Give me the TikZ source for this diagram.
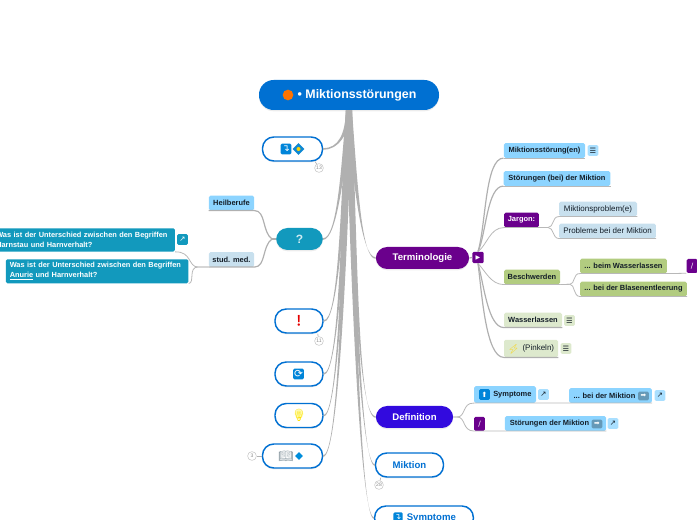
\documentclass[tikz,border=0pt]{standalone}
\usepackage{xcolor}
\usepackage{fontspec}
\usepackage{tikz}
\usetikzlibrary{calc,shapes.geometric,shadows}
\setmainfont{Liberation Sans}
\newfontfamily\symfont{DejaVu Sans}
\newfontfamily\emojifont{Noto Emoji}
\definecolor{rootblue}{RGB}{0,112,210}
\definecolor{linkgray}{RGB}{176,176,176}
\definecolor{tealbox}{RGB}{18,153,189}
\definecolor{skyblue}{RGB}{140,212,255}
\definecolor{paleblue}{RGB}{200,224,238}
\definecolor{termpurple}{RGB}{106,0,140}
\definecolor{defindigo}{RGB}{50,10,222}
\definecolor{leafgreen}{RGB}{178,204,128}
\definecolor{palegreen}{RGB}{221,233,205}
\definecolor{darktext}{RGB}{20,30,40}
\tikzset{
  mainnode/.style={rounded corners=8.5pt,minimum height=18pt,inner sep=0pt,font=\fontsize{7.2}{9}\selectfont\bfseries,drop shadow={opacity=0.15,shadow xshift=0pt,shadow yshift=-1pt}},
  outlined/.style={mainnode,draw=rootblue,line width=1.1pt,fill=white,text=rootblue},
  tagbox/.style={rounded corners=1.2pt,inner sep=0pt,minimum height=11pt,font=\fontsize{5.6}{7}\selectfont\bfseries,text=darktext},
  plainbox/.style={tagbox,font=\fontsize{6}{7}\selectfont},
  questionbox/.style={rounded corners=1.2pt,fill=tealbox,text=white,anchor=north west,inner sep=0pt,text width=137pt,align=left,font=\fontsize{5.55}{7.4}\selectfont\bfseries},
  iconbox/.style={rounded corners=1pt,inner sep=0pt,minimum width=8pt,minimum height=8pt,font=\symfont\fontsize{5.5}{6}\selectfont},
  bigicon/.style={iconbox,fill=rootblue!85!cyan,text=white},
  linkicon/.style={iconbox,fill=skyblue!75!white,text=darktext},
  arrowicon/.style={iconbox,fill=black!28!skyblue,text=white,minimum height=6.5pt,font=\symfont\fontsize{5}{5}\selectfont},
  badge/.style={circle,draw=black!22,fill=white,line width=0.4pt,inner sep=0pt,minimum size=6.6pt,text=black!45,font=\fontsize{3.8}{4}\selectfont},
  thinlink/.style={draw=black!28,line width=0.6pt},
  sublink/.style={draw=linkgray,line width=0.9pt},
  badgelink/.style={draw=linkgray,line width=0.5pt},
}
% tapered limb from the root to a main node
\newcommand{\limb}[3]{%
  \fill[linkgray] ($(root.south)+(-3,0)$) .. controls ($#2+(-1.8,0)$) and ($#3+(0,-0.8)$) .. ($#1+(0,-0.8)$)
    -- ($#1+(0,0.8)$) .. controls ($#3+(0,0.8)$) and ($#2+(1.8,0)$) .. ($(root.south)+(3,0)$) -- cycle;}
\begin{document}
\begin{tikzpicture}[x=0.75pt,y=-0.75pt]
\useasboundingbox (0,0) rectangle (697,520);
% Main nodes
\node[mainnode,fill=rootblue,text=white,minimum width=135pt,minimum height=22.5pt,rounded corners=11pt,font=\fontsize{9.3}{11}\selectfont\bfseries] (root) at (349,95) {\hspace{12pt}• Miktionsstörungen};
\node[outlined,minimum width=45pt] (signpost) at (292.5,149) {};
\node[mainnode,fill=tealbox,text=white!80!tealbox,minimum width=35pt,minimum height=16.5pt,font=\fontsize{9}{10}\selectfont\bfseries] (question) at (299.5,239) {?};
\node[outlined,minimum width=36pt] (warning) at (299,321) {};
\node[outlined,minimum width=36pt] (refresh) at (299,374) {};
\node[outlined,minimum width=36pt] (bulb) at (299,415.5) {};
\node[outlined,minimum width=45pt] (book) at (292.5,456) {};
\node[mainnode,fill=termpurple,text=white,minimum width=70pt,minimum height=16.5pt] (term) at (422.5,258) {Terminologie};
\node[mainnode,fill=defindigo,text=white,minimum width=58pt,minimum height=16.5pt] (defn) at (414.5,417) {Definition};
\node[outlined,minimum width=51pt] (miktion) at (409.5,465) {Miktion};
\node[outlined,minimum width=74pt] (sympt) at (424,518) {\hspace{11pt}Symptome};
% Limbs
\limb{(signpost.east)}{(347,135)}{(338,149)}
\limb{(question.east)}{(343,170)}{(337,239)}
\limb{(warning.east)}{(342,220)}{(338,321)}
\limb{(refresh.east)}{(343,240)}{(338,374)}
\limb{(bulb.east)}{(344,250)}{(338,416)}
\limb{(book.east)}{(345,270)}{(338,456)}
\limb{(term.west)}{(356,190)}{(362,258)}
\limb{(defn.west)}{(356,260)}{(358,417)}
\limb{(miktion.west)}{(354,300)}{(362,465)}
\limb{(sympt.west)}{(354,340)}{(362,518)}
% Icons in the main nodes
\node[circle,fill=orange!90!red,minimum size=8pt,inner sep=0pt] (rootdot) at (288,95) {};
\node[bigicon,font=\symfont\fontsize{7}{8}\selectfont] (signicon) at (286,149) {↴};
\node[diamond,fill=cyan!70!blue,minimum size=9pt,inner sep=0pt] (signdia) at (298.5,149) {};
\node[circle,fill=yellow!70!orange,minimum size=3pt,inner sep=0pt] (signdot) at (298.5,149) {};
\node[text=red!90!black,font=\emojifont\fontsize{8}{10}\selectfont] (warnmark) at (299,321) {❗};
\node[bigicon,font=\symfont\fontsize{8}{8}\selectfont] (refreshicon) at (298.5,374) {⟳};
\node[circle,fill=yellow!35,minimum size=6.5pt,inner sep=0pt] (bulbglow) at (299,414) {};
\node[text=yellow!85!orange,font=\emojifont\fontsize{9}{10}\selectfont] (bulbmark) at (299,415.5) {💡};
\node[text=black!35!paleblue,font=\emojifont\fontsize{9}{10}\selectfont] (bookmark) at (286,456) {📖};
\node[diamond,fill=rootblue!80!cyan,minimum size=6pt,inner sep=0pt] (bookdia) at (299,456) {};
\node[bigicon,minimum width=7pt,minimum height=7pt,font=\symfont\fontsize{6}{7}\selectfont] (symicon) at (398,517) {↴};
% Badges
\node[badge] (signcount) at (319,168) {13};
\node[badge] (warncount) at (319,341) {11};
\node[badge] (bookcount) at (252,456) {3};
\node[badge] (mikcount) at (379,485) {28};
\draw[badgelink] (signpost.south east) ++(-8,0) -- (signcount);
\draw[badgelink] (warning.south east) ++(-6,0) -- (warncount);
\draw[badgelink] (book.west) -- (bookcount);
\draw[badgelink] (miktion.south west) ++(6,0) -- (mikcount);
% Left branch
\node[tagbox,fill=skyblue,minimum width=34pt] (heil) at (231.5,203) {Heilberufe};
\node[tagbox,fill=paleblue,minimum width=34pt] (stud) at (231.5,259.5) {stud. med.};
\node[questionbox,minimum height=17.5pt] (qone) at (-8,228) {\hspace*{3pt}Was ist der Unterschied zwischen den Begriffen\\\hspace*{3pt}Harnstau und Harnverhalt?};
\node[questionbox,minimum height=18pt] (qtwo) at (5.5,259) {\hspace*{3pt}Was ist der Unterschied zwischen den Begriffen\\\hspace*{3pt}\underline{Anurie} und Harnverhalt?};
\node[iconbox,fill=tealbox,text=white] (qlink) at (182.5,239.5) {↗};
\draw[sublink] (question.west) -- (272,239);
\draw[sublink] (272,239) .. controls (262,232) and (266,210.5) .. (heil.south east) -- (heil.south west);
\draw[sublink] (272,239) .. controls (262,246) and (266,267) .. (stud.south east) -- (stud.south west);
\draw[thinlink] (stud.south west) -- (198,267) .. controls (188,267) and (192,251.5) .. (qone.south east);
\draw[thinlink] (stud.south west) -- (198,267) .. controls (188,267) and (195,283) .. (qtwo.south east);
% Terminologie branch
\node[iconbox,fill=termpurple,text=white,font=\symfont\fontsize{4.5}{5}\selectfont,minimum width=8.5pt,minimum height=8.5pt] (termtag) at (478,257.5) {▶};
\draw[sublink] (term.east) -- (termtag.west);
\node[tagbox,fill=skyblue,minimum width=61pt] (mstoer) at (544.5,150.5) {Miktionsstörung(en)};
\node[linkicon] (mstoericon) at (593,150.5) {☰};
\node[tagbox,fill=skyblue,minimum width=80pt] (stoer) at (557,178.5) {Störungen (bei) der Miktion};
\node[tagbox,fill=termpurple,text=white,minimum width=26pt] (jargon) at (521.5,220) {Jargon:};
\node[plainbox,fill=paleblue,minimum width=58.5pt] (mprob) at (598,209) {Miktionsproblem(e)};
\node[plainbox,fill=paleblue,minimum width=72.5pt] (prob) at (607.5,231) {Probleme bei der Miktion};
\node[tagbox,fill=leafgreen,minimum width=42pt] (beschw) at (532,277) {Beschwerden};
\node[tagbox,fill=leafgreen,minimum width=65pt] (beim) at (623.5,266) {... beim Wasserlassen};
\node[tagbox,fill=leafgreen,minimum width=80pt] (blase) at (633.5,289) {... bei der Blasenentleerung};
\node[iconbox,fill=termpurple,text=white,minimum width=8pt,minimum height=10.5pt] (beimtag) at (692,266) {/};
\node[tagbox,fill=palegreen,minimum width=43.5pt] (wasser) at (533,320) {Wasserlassen};
\node[iconbox,fill=palegreen,text=darktext] (wassericon) at (569.5,320.5) {☰};
\node[plainbox,fill=palegreen,minimum width=40.5pt,minimum height=13pt] (pink) at (531,348.5) {\hspace{11pt}(Pinkeln)};
\node[text=yellow!70!orange,inner sep=0pt,font=\emojifont\fontsize{7}{8}\selectfont] (pinkmark) at (513.5,349) {⚡};
\node[iconbox,fill=palegreen,text=darktext] (pinkicon) at (566,348.5) {☰};
\draw[sublink] (termtag.north) .. controls (486,225) and (485,158) .. (mstoer.south west);
\draw[thinlink] (mstoer.south west) -- (mstoer.south east);
\draw[sublink] (termtag.north) .. controls (486,235) and (487,186) .. (stoer.south west);
\draw[thinlink] (stoer.south west) -- (stoer.south east);
\draw[thinlink] (termtag.north) .. controls (487,245) and (490,227.5) .. (jargon.south west) -- (jargon.south east);
\draw[thinlink] (termtag.south) .. controls (486,272) and (491,284.3) .. (beschw.south west) -- (beschw.south east);
\draw[sublink] (termtag.south) .. controls (484,285) and (488,327) .. (wasser.south west) -- (wasser.south east);
\draw[sublink] (termtag.south) .. controls (482,295) and (486,357) .. (pink.south west) -- (pink.south east);
\draw[thinlink] (jargon.south east) -- (548,227.5) .. controls (554,227.5) and (552,216.5) .. (mprob.south west) -- (mprob.south east);
\draw[thinlink] (jargon.south east) -- (548,227.5) .. controls (554,227.5) and (552,238) .. (prob.south west) -- (prob.south east);
\draw[thinlink] (beschw.south east) -- (570,284.3) .. controls (575,284.3) and (573,273) .. (beim.south west) -- (beim.south east) -- (beimtag.south west);
\draw[thinlink] (beschw.south east) -- (570,284.3) .. controls (575,284.3) and (573,296) .. (blase.south west) -- (blase.south east);
% Definition branch
\node[tagbox,fill=skyblue,minimum width=46.5pt,minimum height=12.5pt] (defsym) at (505,394.5) {\hspace{11pt}Symptome};
\node[bigicon,minimum width=8pt,minimum height=8pt] (defsymicon) at (484.5,394.5) {⬆};
\node[linkicon] (defsymlink) at (543.5,394.5) {↗};
\node[tagbox,fill=skyblue,minimum width=62pt] (beimik) at (610.5,395.5) {... bei der Miktion\mbox{\hspace{9pt}}};
\node[arrowicon] (beimikarrow) at (643.5,396) {➡};
\node[linkicon] (beimiklink) at (660,395.5) {↗};
\node[iconbox,fill=termpurple,text=white,minimum width=8pt,minimum height=10.5pt] (deftag) at (479.5,423.8) {/};
\node[tagbox,fill=skyblue,minimum width=76pt] (stmik) at (555.5,423.5) {Störungen der Miktion\mbox{\hspace{9pt}}};
\node[arrowicon] (stmikarrow) at (597,424) {➡};
\node[linkicon] (stmiklink) at (613,423.5) {↗};
\draw[thinlink] (defn.east) -- (457,417) .. controls (466,417) and (462,402.8) .. (defsym.south west) -- (defsym.south east) -- (beimik.south west) -- (beimik.south east);
\draw[thinlink] (defn.east) -- (457,417) .. controls (466,417) and (462,430.8) .. (deftag.south west) -- (deftag.south east) -- (stmik.south west) -- (stmik.south east);
\end{tikzpicture}
\end{document}
